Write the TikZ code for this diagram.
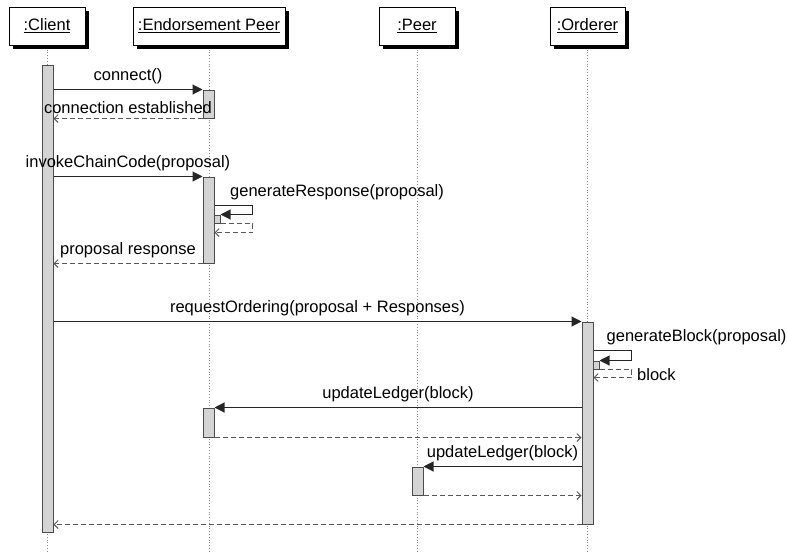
\documentclass[tikz,border=0pt]{standalone}
\usepackage{fontspec}
\setmainfont{Liberation Sans}
\usetikzlibrary{arrows.meta,shadows}
\begin{document}
\begin{tikzpicture}[x=1pt,y=-1pt,
  font=\fontsize{16.5}{19}\selectfont,
  head/.style={draw=black, line width=1pt, fill=white, minimum width=#1,
    minimum height=38pt, inner sep=0pt,
    drop shadow={shadow xshift=4pt, shadow yshift=-4pt, fill=black, opacity=1}},
  life/.style={draw=black!45, dotted, line width=0.8pt},
  bar/.style={draw=black!70, fill=black!17, line width=1pt, minimum width=11pt,
    minimum height=#1, inner sep=0pt},
  nest/.style={draw=black!70, fill=black!17, line width=1pt, minimum width=6pt,
    minimum height=8pt, inner sep=0pt},
  msg/.style={draw=black!85, line width=1.1pt, -{Triangle[length=10pt,width=10pt]}},
  ret/.style={draw=black!65, line width=0.9pt, dash pattern=on 5pt off 3pt,
    -{Straight Barb[length=4pt,width=8pt]}},
  lbl/.style={anchor=base, inner sep=0pt, yshift=9.5pt}]
\useasboundingbox (0,0) rectangle (787,552);
\coordinate (bottom) at (0,552);

% object headers
\node[head=76pt]  (hc) at (47,26)    {\underline{:Client}};
\node[head=152pt] (he) at (209,26)   {\underline{:Endorsement Peer}};
\node[head=76pt]  (hp) at (417,26)   {\underline{:Peer}};
\node[head=75pt]  (ho) at (587.5,26) {\underline{:Orderer}};

% lifelines
\foreach \h in {hc,he,hp,ho}
  \draw[life] ([yshift=-4pt]\h.south) -- (\h.south |- bottom);

% activation bars
\node[bar=467pt] (cb) at (47.5,298.5) {};
\node[bar=28pt]  (e1) at (208.5,104)  {};
\node[bar=86pt]  (e2) at (208.5,220)  {};
\node[nest]      (s1) at (217,219)    {};
\node[bar=202pt] (ob) at (587.5,423)  {};
\node[nest]      (s2) at (596,365)    {};
\node[bar=29pt]  (e3) at (208.5,422.5){};
\node[bar=28pt]  (p1) at (417.5,481)  {};

% connect
\draw[msg] (cb.east |- e1.north) -- node[lbl] {connect()} (e1.north west);
\draw[ret] (e1.south west) -- node[lbl,yshift=-4.5pt] {connection established} (cb.east |- e1.south);

% chaincode invocation
\draw[msg] (cb.east |- e2.north) -- node[lbl] {invokeChainCode(proposal)} (e2.north west);
\draw[msg] ([yshift=-29pt]e2.north east) -- ++(38,0) |- (s1.north east);
\draw[ret] (s1.south east) -- ++(32,0) |- ([yshift=-56pt]e2.north east);
\node[anchor=base west, inner sep=0pt] (gr) at (230,196.5) {generateResponse(proposal)};
\draw[ret] (e2.south west) -- node[lbl] {proposal response} (cb.east |- e2.south);

% ordering
\draw[msg] (cb.east |- ob.north) -- node[lbl] {requestOrdering(proposal + Responses)} (ob.north west);
\draw[msg] ([yshift=-29pt]ob.north east) -- ++(38,0) |- (s2.north east);
\draw[ret] (s2.south east) -- ++(32,0) |- ([yshift=-56pt]ob.north east);
\node[anchor=base west, inner sep=0pt] (gb) at (606.5,341.5) {generateBlock(proposal)};
\node[anchor=base west, inner sep=0pt] (bk) at (637,380) {block};

% ledger updates
\draw[msg] (ob.west |- e3.north) -- node[lbl] {updateLedger(block)} (e3.north east);
\draw[ret] (e3.south east) -- (ob.west |- e3.south);
\draw[msg] (ob.west |- p1.north) -- node[lbl] {updateLedger(block)} (p1.north east);
\draw[ret] (p1.south east) -- (ob.west |- p1.south);

% final reply to the client
\draw[ret] (ob.south west) -- (cb.east |- ob.south);
\end{tikzpicture}
\end{document}
